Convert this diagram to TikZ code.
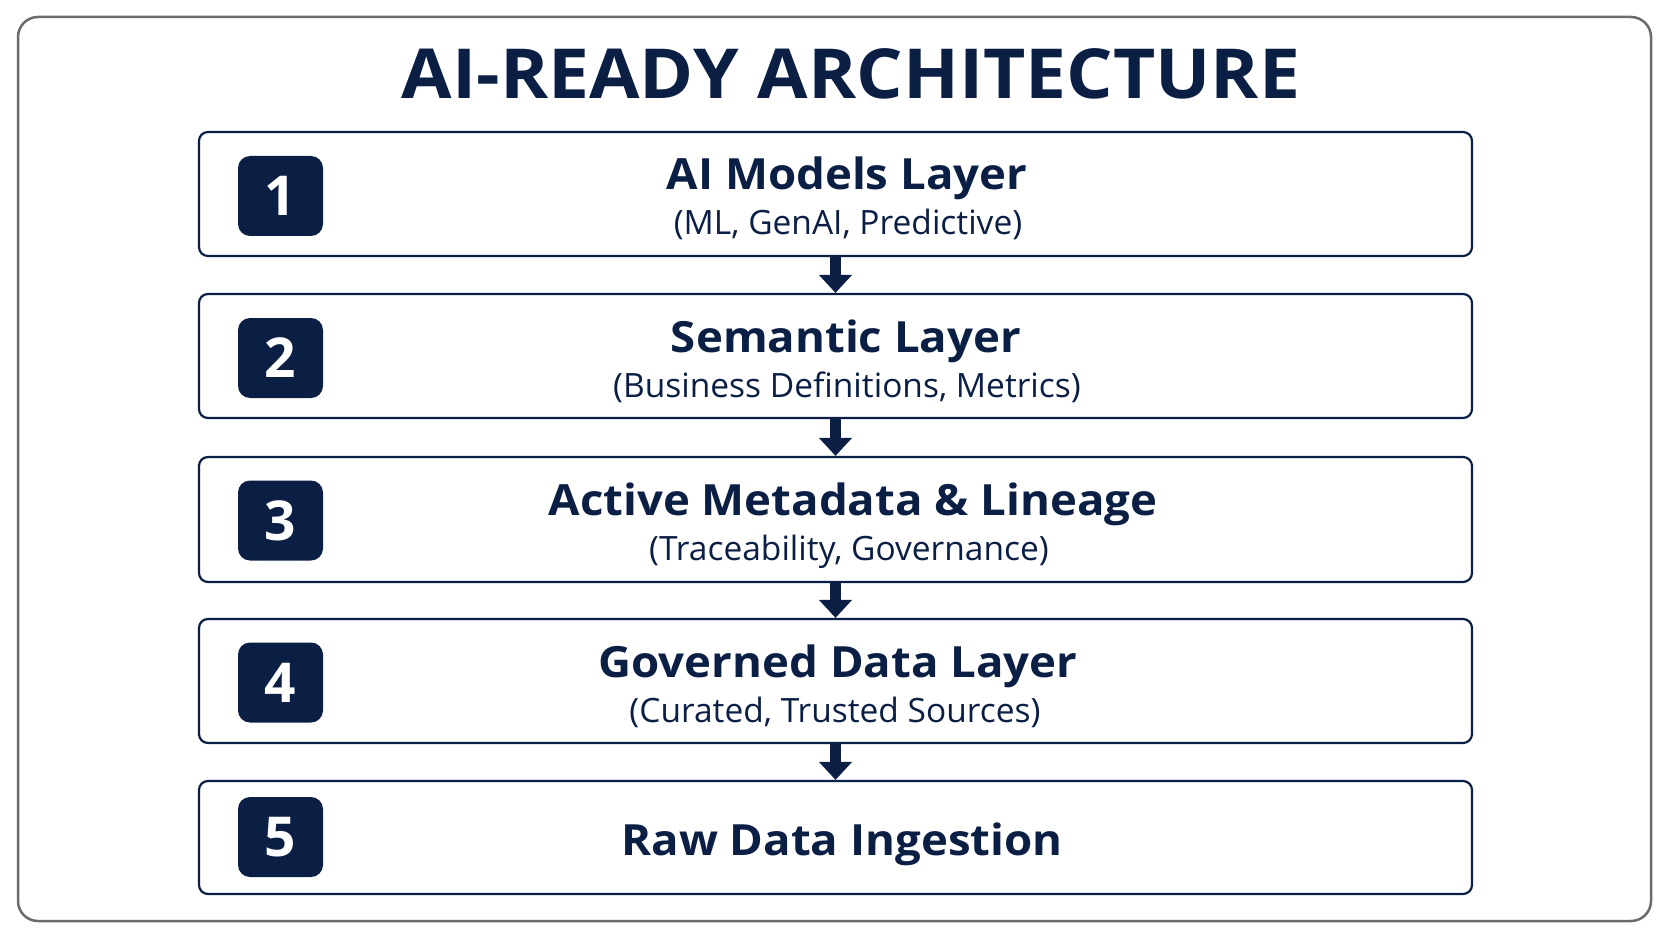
\documentclass[tikz,border=0pt]{standalone}
\usepackage{fontspec}
\setmainfont[Ligatures=NoCommon]{Open Sans}
\newfontfamily\widefont[FakeStretch=1.06,Ligatures=NoCommon]{Open Sans}
\usetikzlibrary{arrows.meta}
\definecolor{navy}{HTML}{0B1F45}
\definecolor{framegray}{HTML}{6B6B6B}
\tikzset{
  outerframe/.style={draw=framegray, line width=2.5pt, rounded corners=20pt, fill=white},
  layerbox/.style={draw=navy, line width=2.2pt, rounded corners=9pt, minimum width=1273pt, inner sep=0pt},
  badge/.style={fill=navy, rounded corners=12pt, minimum width=85pt, minimum height=80pt, inner sep=0pt,
    text=white, font=\fontsize{55}{55}\selectfont\bfseries},
  maintext/.style={anchor=base, text=navy, inner sep=0pt, font=\widefont\fontsize{43}{43}\selectfont\bfseries},
  subtext/.style={anchor=base, text=navy, inner sep=0pt, font=\fontsize{33.5}{33.5}\selectfont},
  titletext/.style={anchor=base, text=navy, inner sep=0pt, font=\widefont\fontsize{69}{69}\selectfont\bfseries},
  flow/.style={draw=navy, line width=11pt, -{Triangle[length=18pt,width=32pt]}, shorten >=0pt}
}
\begin{document}
\begin{tikzpicture}[x=1pt,y=-1pt]
\useasboundingbox (0,0) rectangle (1672,941);
\fill[white] (0,0) rectangle (1672,941);
\draw[outerframe] (18,17) rectangle (1651,921);

\node[titletext] (title) at (851,99) {AI-READY ARCHITECTURE};

\node[layerbox, minimum height=124pt] (L1) at (835.5,194) {};
\node[layerbox, minimum height=124pt] (L2) at (835.5,356) {};
\node[layerbox, minimum height=125pt] (L3) at (835.5,519.5) {};
\node[layerbox, minimum height=124pt] (L4) at (835.5,681) {};
\node[layerbox, minimum height=113pt] (L5) at (835.5,837.5) {};

\node[badge] (B1) at (280.5,196) {1};
\node[badge] (B2) at (280.5,358) {2};
\node[badge] (B3) at (280.5,520.5) {3};
\node[badge] (B4) at (280.5,682.5) {4};
\node[badge] (B5) at (280.5,837) {5};

\node[maintext] (M1) at (847,190) {AI Models Layer};
\node[subtext]  (S1) at (848,235) {(ML, GenAI, Predictive)};
\node[maintext] (M2) at (846,352) {Semantic Layer};
\node[subtext]  (S2) at (847,397) {(Business Definitions, Metrics)};
\node[maintext] (M3) at (853,515) {Active Metadata \& Lineage};
\node[subtext]  (S3) at (849,560) {(Traceability, Governance)};
\node[maintext] (M4) at (838,677) {Governed Data Layer};
\node[subtext]  (S4) at (835,722) {(Curated, Trusted Sources)};
\node[maintext] (M5) at (842,855) {Raw Data Ingestion};

\draw[flow] (L1.south) -- (L2.north);
\draw[flow] (L2.south) -- (L3.north);
\draw[flow] (L3.south) -- (L4.north);
\draw[flow] (L4.south) -- (L5.north);
\end{tikzpicture}
\end{document}
